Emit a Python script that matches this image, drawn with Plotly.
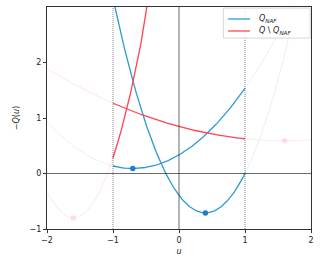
import numpy as np
import plotly.graph_objects as go

# Parabola parameters: q(u) = curv * (u - vertex_u)^2 + vertex_q
vertex_u = [-0.70, 0.40, -1.60, 1.60]
vertex_q = [0.09, -0.71, -0.80, 0.59]
curvature = [0.50, 1.97, 3.00, 0.10]
series_group = ["naf", "naf", "rest", "rest"]

legend_labels = ["<i>Q</i><sub><i>NAF</i></sub>",
                 "<i>Q</i> \\ <i>Q</i><sub><i>NAF</i></sub>"]

feasible = [-1.0, 1.0]
u_domain = [-2.0, 2.0]
q_range = [-1.0, 3.0]
x_ticks = [-2, -1, 0, 1, 2]
y_ticks = [-1, 0, 1, 2]

BLUE = "#2f9bd5"
BLUE_DOT = "#1a7fcc"
RED = "#ff4656"

fig = go.Figure()

u_full = np.linspace(u_domain[0], u_domain[1], 400)
u_in = np.linspace(feasible[0], feasible[1], 300)

for h, k, a, g in zip(vertex_u, vertex_q, curvature, series_group):
    col = BLUE if g == "naf" else RED
    fig.add_trace(go.Scatter(x=u_full, y=a * (u_full - h) ** 2 + k, mode="lines",
                             line=dict(color=col, width=1), opacity=0.12,
                             showlegend=False, hoverinfo="skip"))
    fig.add_trace(go.Scatter(x=u_in, y=a * (u_in - h) ** 2 + k, mode="lines",
                             line=dict(color=col, width=1.3), showlegend=False))
    inside = feasible[0] <= h <= feasible[1]
    fig.add_trace(go.Scatter(x=[h], y=[k], mode="markers",
                             marker=dict(color=BLUE_DOT if g == "naf" else RED, size=5.5),
                             opacity=1.0 if inside else 0.15,
                             showlegend=False, hoverinfo="skip"))

# reference lines
for xv in feasible:
    fig.add_shape(type="line", x0=xv, x1=xv, y0=0, y1=1, xref="x", yref="paper",
                  line=dict(color="rgba(0,0,0,0.7)", width=0.7, dash="1px,1px"))
fig.add_shape(type="line", x0=0, x1=0, y0=0, y1=1, xref="x", yref="paper",
              line=dict(color="rgba(0,0,0,0.65)", width=0.9))
fig.add_shape(type="line", x0=0, x1=1, y0=0, y1=0, xref="paper", yref="y",
              line=dict(color="rgba(0,0,0,0.65)", width=0.9))

# compact legend (matplotlib style)
fig.add_shape(type="rect", x0=0.668, x1=0.997, y0=0.860, y1=0.995,
              xref="paper", yref="paper", fillcolor="rgba(255,255,255,0.85)",
              line=dict(color="#d6d6d6", width=1))
for yl, col, lab in zip([0.946, 0.892], [BLUE, RED], legend_labels):
    fig.add_shape(type="line", x0=0.686, x1=0.769, y0=yl, y1=yl,
                  xref="paper", yref="paper", line=dict(color=col, width=1.3))
    fig.add_annotation(x=0.795, y=yl, xref="paper", yref="paper", text=lab,
                       showarrow=False, xanchor="left", yanchor="middle",
                       font=dict(size=8, color="#222"))

fig.update_layout(
    width=320, height=256,
    margin=dict(l=47, r=9, t=7, b=27, autoexpand=False),
    paper_bgcolor="white", plot_bgcolor="white",
    font=dict(family="DejaVu Sans", size=8, color="#222"),
    showlegend=False,
    xaxis=dict(range=u_domain, tickvals=x_ticks, ticktext=["−2", "−1", "0", "1", "2"],
               showgrid=False, zeroline=False, showline=True, mirror=True, automargin=False,
               linecolor="#333", linewidth=1, ticks="outside", ticklen=3, tickcolor="#333",
               title=dict(text="<i>u</i>", standoff=4, font=dict(size=8))),
    yaxis=dict(range=q_range, tickvals=y_ticks, ticktext=["−1", "0", "1", "2"],
               showgrid=False, zeroline=False, showline=True, mirror=True, automargin=False,
               linecolor="#333", linewidth=1, ticks="outside", ticklen=3, tickcolor="#333",
               title=dict(text="−<i>Q</i>(<i>u</i>)", standoff=8, font=dict(size=8))),
)

fig.write_html("out.html")
